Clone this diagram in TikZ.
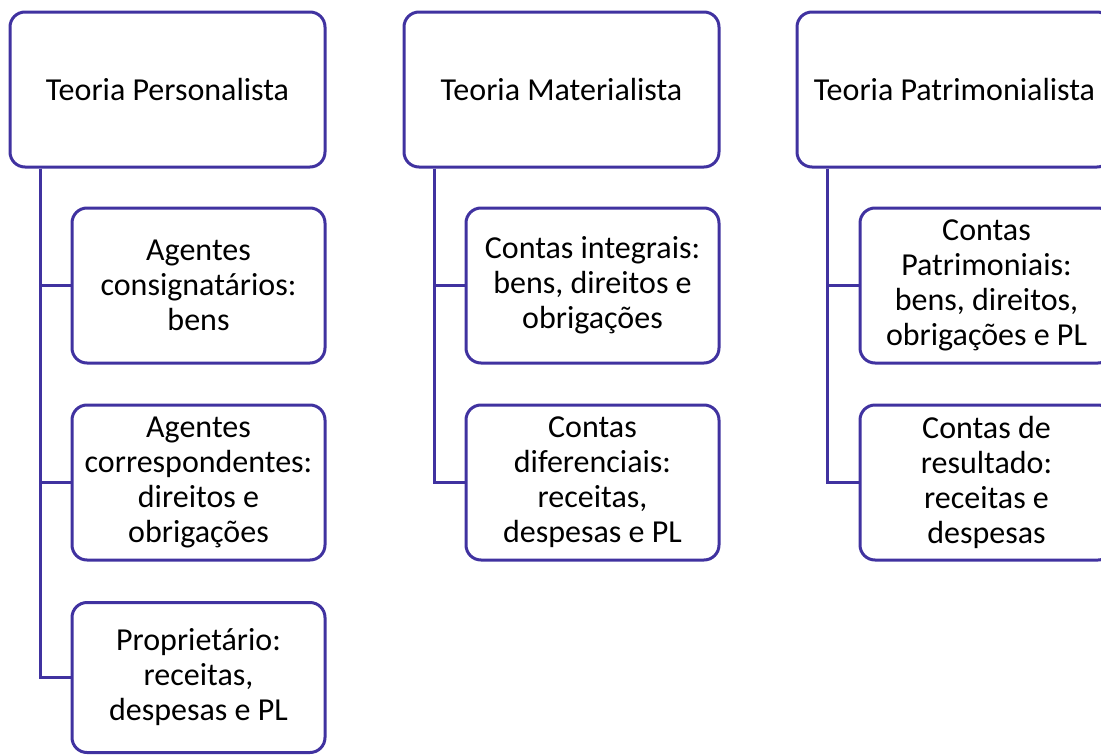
\documentclass[tikz,border=0pt]{standalone}
\usepackage{fontspec}
\setmainfont{Carlito}
\usepackage{xcolor}
\usepackage{tikz}
\definecolor{roxo}{RGB}{64,50,160}
\tikzset{
  teoria/.style={draw=roxo, line width=3pt, rounded corners=15pt, fill=white,
    minimum width=315pt, minimum height=155pt, align=center, inner sep=0pt},
  conta/.style={teoria, minimum width=253pt},
  ligacao/.style={draw=roxo, line width=3pt}
}

\begin{document}
\begin{tikzpicture}[x=1pt,y=-1pt,font=\fontsize{32}{35}\selectfont]
\clip (0,0) rectangle (1101,755);
% teorias
\node[teoria] (pers) at (167.5,89.5) {Teoria Personalista};
\node[teoria] (mat) at (561.5,89.5) {Teoria Materialista};
\node[teoria] (patr) at (954.5,89.5) {Teoria Patrimonialista};
% contas
\node[conta] (cons) at (198.5,285.5) {Agentes\\consignatários:\\bens};
\node[conta] (corr) at (198.5,482.5) {Agentes\\correspondentes:\\direitos e\\obrigações};
\node[conta, minimum height=150pt] (prop) at (198.5,677.5) {Proprietário:\\receitas,\\despesas e PL};
\node[conta] (integ) at (592.5,285.5) {Contas integrais:\\bens, direitos e\\obrigações};
\node[conta] (difer) at (592.5,482.5) {Contas\\diferenciais:\\receitas,\\despesas e PL};
\node[conta] (cpatr) at (986.5,285.5) {Contas\\Patrimoniais:\\bens, direitos,\\obrigações e PL};
\node[conta] (cres) at (986.5,482.5) {Contas de\\resultado:\\receitas e\\despesas};
% ligacoes
\draw[ligacao] ([xshift=32pt]pers.south west) |- (cons.west);
\draw[ligacao] ([xshift=32pt]pers.south west) |- (corr.west);
\draw[ligacao] ([xshift=32pt]pers.south west) |- (prop.west);
\draw[ligacao] ([xshift=32pt]mat.south west) |- (integ.west);
\draw[ligacao] ([xshift=32pt]mat.south west) |- (difer.west);
\draw[ligacao] ([xshift=32pt]patr.south west) |- (cpatr.west);
\draw[ligacao] ([xshift=32pt]patr.south west) |- (cres.west);
\end{tikzpicture}
\end{document}
